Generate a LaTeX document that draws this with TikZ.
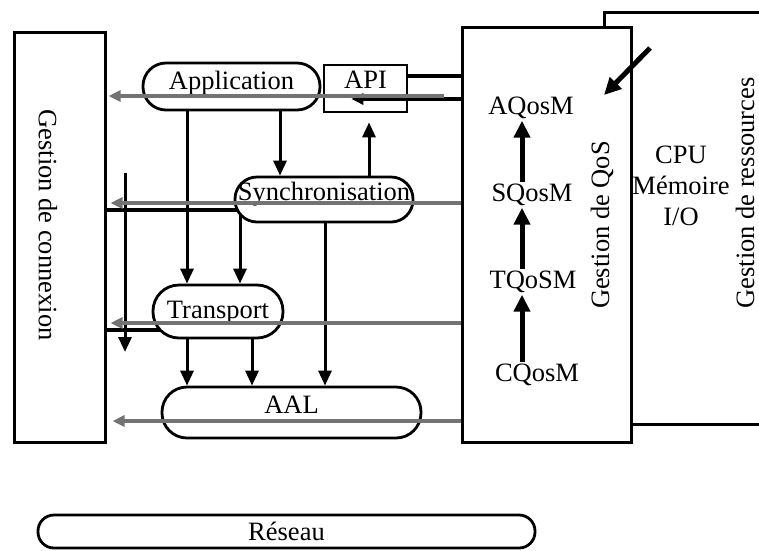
\documentclass[tikz,border=0pt]{standalone}
\usepackage{fontspec}
\setmainfont{Liberation Serif}
\usetikzlibrary{arrows.meta, backgrounds}

\begin{document}
\begin{tikzpicture}[
    x=1pt, y=-1pt,
    font=\fontsize{26.5}{30}\selectfont,
    box/.style={rectangle, draw, line width=3pt, fill=white, inner sep=0pt},
    layer/.style={rectangle, rounded corners=#1, draw, line width=2.8pt, fill=white, text height=18pt, inner sep=0pt},
    qm/.style={text height=18pt, text depth=5pt, inner sep=1pt},
    arrow/.style={line width=3pt, -{Triangle[length=15pt,width=13pt]}},
    qarrow/.style={line width=5pt, -{Triangle[length=17pt,width=16pt]}},
    flow/.style={line width=3.6pt, black!55, -{Triangle[length=12pt,width=11pt]}},
    link/.style={line width=3.6pt}
]
    \useasboundingbox (0,0) rectangle (759,550);
    \clip (0,0) rectangle (759,550);

    % gestion de ressources / QoS
    \node (res) [box, minimum width=186pt, minimum height=412pt] at (697,218) {};
    \node (restxt) [rotate=90] at (745,193) {Gestion de ressources};
    \node (hw) [align=center, inner sep=0pt, font=\fontsize{26.5}{31}\selectfont] at (681,186) {CPU\\Mémoire\\I/O};
    \node (qos) [box, minimum width=169pt, minimum height=415pt] at (546.5,234.5) {};
    \node (qostxt) [rotate=90] at (602,225) {Gestion de QoS};
    \node (aq) [qm] at (531,108) {AQosM};
    \node (sq) [qm] at (532,195) {SQosM};
    \node (tq) [qm] at (533,282) {TQoSM};
    \node (cq) [qm] at (537,375) {CQosM};

    \draw [qarrow] ([xshift=-15pt]cq.north) -- ([xshift=-11pt]tq.south);
    \draw [qarrow] ([xshift=-11pt]tq.north) -- ([xshift=-10pt]sq.south);
    \draw [qarrow] ([xshift=-10pt]sq.north) -- ([xshift=-9pt]aq.south);

    \coordinate (rin) at (650,48);
    \coordinate (rout) at (604,95);
    \draw [qarrow] (rin) -- (rout);

    % gestion de connexion
    \node (conn) [box, minimum width=91pt, minimum height=410pt] at (59.5,237) {};
    \node (conntxt) [rotate=-90] at (48,225) {Gestion de connexion};

    % couches
    \node (app) [layer=23pt, minimum width=177pt, minimum height=47pt, text depth=12.5pt] at (231.5,86.5) {Application};
    \node (api) [box, line width=2.8pt, minimum width=83pt, minimum height=47pt, text height=18pt, text depth=18.5pt] at (365.5,88.5) {API};
    \node (sync) [layer=22pt, minimum width=178pt, minimum height=45pt, text depth=16.5pt] at (324,199.5) {Synchronisation};
    \node (trans) [layer=26pt, minimum width=130pt, minimum height=53pt, text depth=3.5pt] at (218,311.5) {Transport};
    \node (aal) [layer=25pt, minimum width=259pt, minimum height=51pt, text depth=16.5pt] at (291.5,412.5) {AAL};
    \node (net) [layer=16pt, minimum width=497pt, minimum height=33pt, text depth=1pt] at (286.5,531.5) {Réseau};

    % niveaux des lignes
    \coordinate (r0) at (0,76);
    \coordinate (r1g) at (0,96);
    \coordinate (r1d) at (0,99);
    \coordinate (r2g) at (0,203);
    \coordinate (r2d) at (0,210);
    \coordinate (r3g) at (0,323);
    \coordinate (r3d) at (0,330);
    \coordinate (r4g) at (0,421);
    \coordinate (vtop) at (125,173);
    \coordinate (vbot) at (125,352);

    \begin{scope}[on background layer]
        \draw [link] (conn.east |- r2d) -- (sync.center |- r2d);
        \draw [link] (conn.east |- r3d) -- (trans.center |- r3d);
        \draw [arrow] ([xshift=-84pt]sync.center) -- ([xshift=22pt]trans.north);
    \end{scope}

    \draw [arrow] ([xshift=-44.5pt]app.south) -- ([xshift=-31pt]trans.north);
    \draw [arrow] ([xshift=48.5pt]app.south) -- ([xshift=-44pt]sync.north);
    \draw [arrow, shorten >=9pt] ([xshift=45pt]sync.north) -- ([xshift=3.5pt]api.south);
    \draw [arrow] ([xshift=1pt]sync.south) -- ([xshift=33.5pt]aal.north);
    \draw [arrow] ([xshift=-31pt]trans.south) -- ([xshift=-104.5pt]aal.north);
    \draw [arrow] ([xshift=34pt]trans.south) -- ([xshift=-39.5pt]aal.north);
    \draw [arrow] (vtop) -- (vbot);

    \draw [link, line width=4.5pt] (api.east |- r0) -- (qos.west |- r0);
    \draw [link, -{Triangle[length=12pt,width=11pt]}, shorten >=30pt] (qos.west |- r1d) -- (app.east |- r1d);
    \draw [flow, shorten <=17pt, shorten >=2pt] (qos.west |- r1g) -- (conn.east |- r1g);
    \draw [flow, shorten >=4pt] (qos.west |- r2g) -- (conn.east |- r2g);
    \draw [flow, shorten >=4pt] (qos.west |- r3g) -- (conn.east |- r3g);
    \draw [flow, shorten >=6pt] (qos.west |- r4g) -- (conn.east |- r4g);
\end{tikzpicture}
\end{document}
